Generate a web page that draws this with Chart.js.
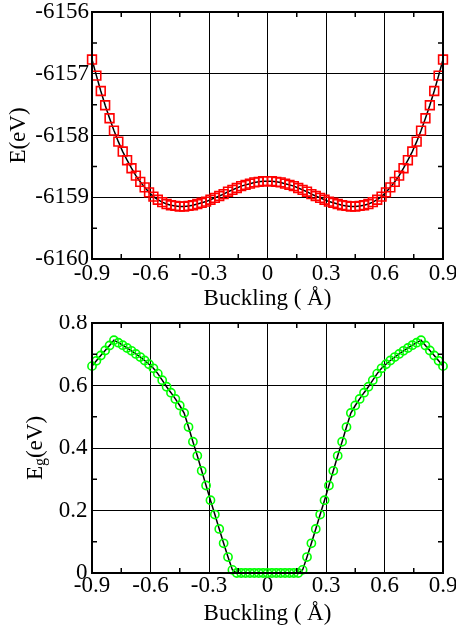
<!DOCTYPE html>
<html>
<head>
<meta charset="utf-8">
<title>Buckling scan</title>
<script src="https://cdn.jsdelivr.net/npm/chart.js@4.4.1/dist/chart.umd.min.js"></script>
<style>
    body { margin: 0; background: #fff; }
    .panel { position: absolute; left: 0; width: 456px; height: 315px; }
    #energy-panel { top: 0; }
    #gap-panel { top: 315px; }
</style>
</head>
<body>
<div class="panel" id="energy-panel"><canvas id="energy-chart" width="456" height="315"></canvas></div>
<div class="panel" id="gap-panel"><canvas id="gap-chart" width="456" height="315"></canvas></div>
<script>
/* ============================================
   Buckling scan – total energy and band gap
   ============================================ */

// Buckling (Å)
const buckling = [
    -0.9, -0.8775, -0.855, -0.8325, -0.81, -0.7875, -0.765, -0.7425, -0.72, -0.6975,
    -0.675, -0.6525, -0.63, -0.6075, -0.585, -0.5625, -0.54, -0.5175, -0.495, -0.4725,
    -0.45, -0.4275, -0.405, -0.3825, -0.36, -0.3375, -0.315, -0.2925, -0.27, -0.2475,
    -0.225, -0.2025, -0.18, -0.1575, -0.135, -0.1125, -0.09, -0.0675, -0.045, -0.0225,
    0,
    0.0225, 0.045, 0.0675, 0.09, 0.1125, 0.135, 0.1575, 0.18, 0.2025, 0.225,
    0.2475, 0.27, 0.2925, 0.315, 0.3375, 0.36, 0.3825, 0.405, 0.4275, 0.45,
    0.4725, 0.495, 0.5175, 0.54, 0.5625, 0.585, 0.6075, 0.63, 0.6525, 0.675,
    0.6975, 0.72, 0.7425, 0.765, 0.7875, 0.81, 0.8325, 0.855, 0.8775, 0.9
];

// E (eV)
const totalEnergy = [
    -6156.77, -6157.03, -6157.28, -6157.51, -6157.72, -6157.92, -6158.10, -6158.26, -6158.40, -6158.53,
    -6158.65, -6158.75, -6158.84, -6158.92, -6158.99, -6159.04, -6159.08, -6159.11, -6159.13, -6159.14,
    -6159.15, -6159.15, -6159.14, -6159.13, -6159.11, -6159.09, -6159.07, -6159.04, -6159.01, -6158.98,
    -6158.95, -6158.91, -6158.88, -6158.85, -6158.82, -6158.80, -6158.78, -6158.76, -6158.75, -6158.74,
    -6158.74,
    -6158.74, -6158.75, -6158.76, -6158.78, -6158.80, -6158.82, -6158.85, -6158.88, -6158.91, -6158.95,
    -6158.98, -6159.01, -6159.04, -6159.07, -6159.09, -6159.11, -6159.13, -6159.14, -6159.15, -6159.15,
    -6159.14, -6159.13, -6159.11, -6159.08, -6159.04, -6158.99, -6158.92, -6158.84, -6158.75, -6158.65,
    -6158.53, -6158.40, -6158.26, -6158.10, -6157.92, -6157.72, -6157.51, -6157.28, -6157.03, -6156.77
];

// Eg (eV)
const bandGap = [
    0.662, 0.679, 0.696, 0.712, 0.728, 0.745, 0.737, 0.729, 0.720, 0.711,
    0.701, 0.691, 0.680, 0.668, 0.655, 0.638, 0.617, 0.596, 0.577, 0.557,
    0.536, 0.512, 0.467, 0.420, 0.375, 0.327, 0.280, 0.233, 0.187, 0.141,
    0.095, 0.051, 0.010, 0, 0, 0, 0, 0, 0, 0,
    0,
    0, 0, 0, 0, 0, 0, 0, 0.010, 0.051, 0.095,
    0.141, 0.187, 0.233, 0.280, 0.327, 0.375, 0.420, 0.467, 0.512, 0.536,
    0.557, 0.577, 0.596, 0.617, 0.638, 0.655, 0.668, 0.680, 0.691, 0.701,
    0.711, 0.720, 0.729, 0.737, 0.745, 0.728, 0.712, 0.696, 0.679, 0.662
];

const bucklingTicks = [-0.9, -0.6, -0.3, 0, 0.3, 0.6, 0.9];
const energyTicks = [-6160, -6159, -6158, -6157, -6156];
const gapTicks = [0, 0.2, 0.4, 0.6, 0.8];

const SERIF = '"Liberation Serif", "Times New Roman", serif';
Chart.defaults.font.family = SERIF;
Chart.defaults.font.size = 23;
Chart.defaults.color = '#000';

function fmt(v) {
    return String(Math.round(v * 10) / 10);
}

// frame on all four sides plus inward minor ticks halfway between majors
const framePlugin = {
    id: 'frame',
    afterDraw(chart) {
        const { ctx, chartArea: a, scales } = chart;
        ctx.save();
        ctx.strokeStyle = '#000';
        ctx.lineWidth = 1.5;
        ctx.beginPath();
        const xs = scales.x.ticks.map(t => t.value);
        for (let i = 0; i < xs.length - 1; i++) {
            const px = scales.x.getPixelForValue((xs[i] + xs[i + 1]) / 2);
            ctx.moveTo(px, a.bottom); ctx.lineTo(px, a.bottom - 5);
            ctx.moveTo(px, a.top); ctx.lineTo(px, a.top + 5);
        }
        const ys = scales.y.ticks.map(t => t.value);
        for (let i = 0; i < ys.length - 1; i++) {
            const py = scales.y.getPixelForValue((ys[i] + ys[i + 1]) / 2);
            ctx.moveTo(a.left, py); ctx.lineTo(a.left + 5, py);
            ctx.moveTo(a.right, py); ctx.lineTo(a.right - 5, py);
        }
        ctx.stroke();
        ctx.lineWidth = 2;
        ctx.strokeRect(a.left, a.top, a.right - a.left, a.bottom - a.top);
        ctx.restore();
    }
};

// y title with a subscript g, which the axis title cannot do
const gapTitlePlugin = {
    id: 'gapTitle',
    afterDraw(chart) {
        const { ctx, chartArea: a } = chart;
        const big = '23px ' + SERIF;
        const small = '16px ' + SERIF;
        ctx.save();
        ctx.font = big;
        const wE = ctx.measureText('E').width;
        const wRest = ctx.measureText('(eV)').width;
        ctx.font = small;
        const wg = ctx.measureText('g').width;
        ctx.translate(41.5, (a.top + a.bottom) / 2);
        ctx.rotate(-Math.PI / 2);
        ctx.fillStyle = '#000';
        ctx.textBaseline = 'alphabetic';
        let x = -(wE + wg + wRest) / 2;
        ctx.font = big; ctx.fillText('E', x, 0); x += wE;
        ctx.font = small; ctx.fillText('g', x, 3.5); x += wg;
        ctx.font = big; ctx.fillText('(eV)', x, 0);
        ctx.restore();
    }
};

function buildChart(canvasId, cfg) {
    const points = buckling.map((x, i) => ({ x, y: cfg.values[i] }));
    return new Chart(document.getElementById(canvasId), {
        type: 'scatter',
        data: {
            datasets: [{
                data: points,
                showLine: true,
                borderColor: '#000',
                borderWidth: 1.5,
                tension: 0,
                pointStyle: cfg.pointStyle,
                pointRadius: cfg.pointRadius,
                pointBorderWidth: 1.6,
                pointBorderColor: cfg.color,
                pointBackgroundColor: 'rgba(0,0,0,0)',
                clip: false
            }]
        },
        options: {
            responsive: false,
            animation: false,
            events: [],
            layout: { padding: { left: 0, right: 13, top: cfg.top, bottom: 0 } },
            plugins: { legend: { display: false }, tooltip: { enabled: false } },
            scales: {
                x: {
                    type: 'linear',
                    min: -0.9,
                    max: 0.9,
                    afterBuildTicks: s => { s.ticks = bucklingTicks.map(v => ({ value: v })); },
                    afterFit: s => { s.height = cfg.xHeight; s.paddingLeft = 0; s.paddingRight = 0; },
                    grid: { color: '#000', lineWidth: 1, drawTicks: false },
                    border: { display: false },
                    ticks: {
                        autoSkip: false, maxRotation: 0, padding: cfg.xTickPad,
                        font: { size: 23, lineHeight: 1 },
                        callback: v => fmt(v)
                    },
                    title: {
                        display: true,
                        text: 'Buckling ( Å)',
                        font: { size: 23, lineHeight: 1.2 },
                        padding: { top: 0, bottom: cfg.xTitlePad }
                    }
                },
                y: {
                    type: 'linear',
                    min: cfg.yMin,
                    max: cfg.yMax,
                    afterBuildTicks: s => { s.ticks = cfg.yTicks.map(v => ({ value: v })); },
                    afterFit: s => { s.width = 92; s.paddingTop = 0; s.paddingBottom = 0; },
                    grid: { color: '#000', lineWidth: 1, drawTicks: false },
                    border: { display: false },
                    ticks: {
                        padding: cfg.yTickPad,
                        font: { size: 23, lineHeight: 1 },
                        callback: v => fmt(v)
                    },
                    title: cfg.yTitle
                }
            }
        },
        plugins: cfg.plugins
    });
}

buildChart('energy-chart', {
    values: totalEnergy,
    yTicks: energyTicks,
    yMin: -6160,
    yMax: -6156,
    color: '#ff0000',
    pointStyle: 'rect',
    pointRadius: 6.2,
    top: 12,
    xHeight: 56,
    xTickPad: 3,
    xTitlePad: 2,
    yTickPad: 3,
    yTitle: {
        display: true,
        text: 'E(eV)',
        font: { size: 23, lineHeight: 1.2 },
        padding: { top: 5.5, bottom: 0 }
    },
    plugins: [framePlugin]
});

buildChart('gap-chart', {
    values: bandGap,
    yTicks: gapTicks,
    yMin: 0,
    yMax: 0.8,
    color: '#00ff00',
    pointStyle: 'circle',
    pointRadius: 4.1,
    top: 8,
    xHeight: 57,
    xTickPad: 1,
    xTitlePad: 2.5,
    yTickPad: 4.5,
    yTitle: { display: false },
    plugins: [framePlugin, gapTitlePlugin]
});
</script>
</body>
</html>
